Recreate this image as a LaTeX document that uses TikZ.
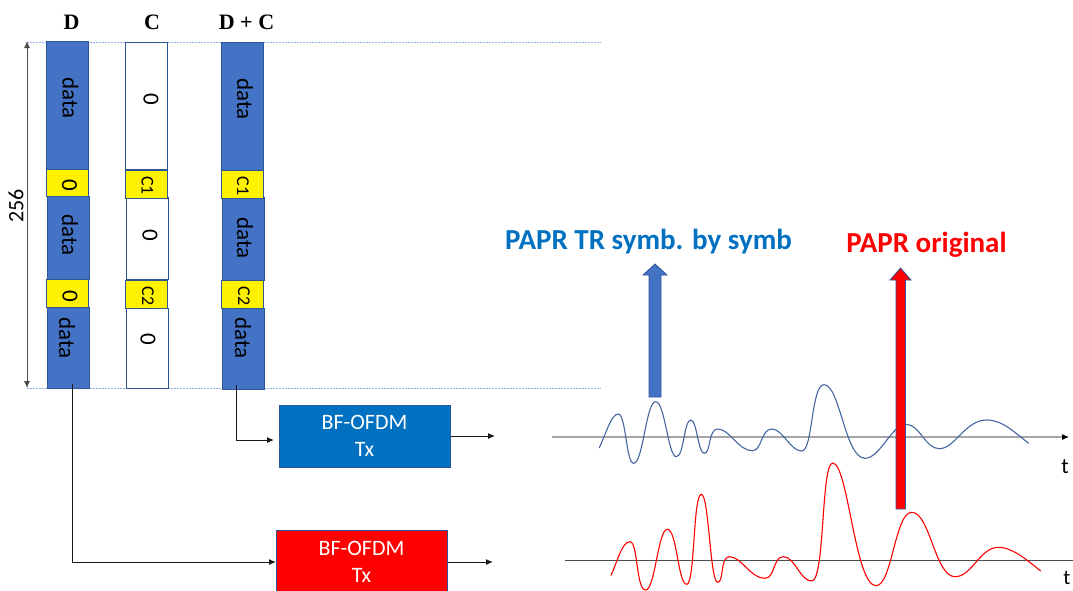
\documentclass[tikz,border=0pt]{standalone}
\usepackage{fontspec}
\setmainfont{Carlito}
\newfontfamily\titlefont{Liberation Serif}
\usetikzlibrary{arrows.meta}
\definecolor{segblue}{HTML}{4472C4}
\definecolor{edgeblue}{HTML}{2F5597}
\definecolor{txblue}{HTML}{0070C0}
\definecolor{dotblue}{HTML}{8FAEEA}
\tikzset{
  x=1pt,y=-1pt,
  seg/.style={draw=edgeblue,line width=1pt,inner sep=0pt,minimum width=42pt},
  dataseg/.style={seg,fill=segblue},
  zeroseg/.style={seg,fill=white},
  yellowseg/.style={seg,fill=yellow},
  biglabel/.style={inner sep=0pt,rotate=-90,yshift=2pt,font=\fontsize{23}{23}\selectfont},
  smalllabel/.style={inner sep=0pt,rotate=-90,yshift=1pt,font=\fontsize{18}{18}\selectfont},
  coltitle/.style={font=\titlefont\fontsize{22}{22}\selectfont\bfseries,inner sep=0pt},
  txbox/.style={draw=edgeblue,line width=1pt,inner sep=0pt,minimum width=171pt,minimum height=62pt,text=white,align=center,font=\fontsize{22}{27}\selectfont},
  arr/.style={-{Latex[length=7pt,width=6pt]},line width=1pt,black!90},
  guide/.style={draw=dotblue,dash pattern=on 2pt off 1pt,line width=1pt},
  wave/.style={line width=1.1pt,line cap=round},
  bigarrow/.style={draw=edgeblue,line width=.8pt},
  plain/.style={inner sep=0pt}
}
\begin{document}
\begin{tikzpicture}
\useasboundingbox (0,0) rectangle (1073,590);

% guides
\coordinate (gtl) at (27,42.5); \coordinate (gtr) at (601,42.5);
\coordinate (gbl) at (27,388.5); \coordinate (gbr) at (601,388.5);
\draw[guide] (gtl) -- (gtr);
\draw[guide] (gbl) -- (gbr);

% titles
\node[coltitle] (td) at (71.5,22) {D};
\node[coltitle] (tc) at (152,22) {C};
\node[coltitle] (tdc) at (246.5,22) {D + C};

% column D
\node[dataseg,minimum height=128pt] (d1) at (67,105) {};
\node[dataseg,minimum height=83pt] (d2) at (68,237.5) {};
\node[dataseg,minimum height=81pt] (d3) at (68,347.5) {};
\node[yellowseg,minimum height=27pt] (dy1) at (67,183) {};
\node[yellowseg,minimum height=28pt] (dy2) at (67.5,293.5) {};
\node[biglabel] (d1t) at (68.5,98) {data};
\node[biglabel] (d2t) at (68,235) {data};
\node[biglabel] (d3t) at (65,338) {data};
\node[biglabel] (dy1t) at (67.5,185) {0};
\node[biglabel] (dy2t) at (68,296) {0};

% column C
\node[zeroseg,minimum height=127pt] (c1) at (146,105.5) {};
\node[zeroseg,minimum height=82pt] (c2) at (147,238) {};
\node[zeroseg,minimum height=80pt] (c3) at (147,348) {};
\node[yellowseg,minimum height=28pt] (cy1) at (146,184) {};
\node[yellowseg,minimum height=28pt] (cy2) at (146,294) {};
\node[biglabel] (c1t) at (149,99) {0};
\node[biglabel] (c2t) at (148,235) {0};
\node[biglabel] (c3t) at (146,339) {0};
\node[smalllabel] (cy1t) at (146.5,185.5) {C1};
\node[smalllabel] (cy2t) at (147,296) {C2};

% column D + C
\node[dataseg,minimum height=128pt] (e1) at (242,106) {};
\node[dataseg,minimum height=83pt] (e2) at (243,238.5) {};
\node[dataseg,minimum height=81pt] (e3) at (243,348.5) {};
\node[yellowseg,minimum height=28pt] (ey1) at (242,184) {};
\node[yellowseg,minimum height=28pt] (ey2) at (242.5,294) {};
\node[biglabel] (e1t) at (243,99) {data};
\node[biglabel] (e2t) at (243,238) {data};
\node[biglabel] (e3t) at (241,338) {data};
\node[smalllabel] (ey1t) at (242,186) {C1};
\node[smalllabel] (ey2t) at (243,296) {C2};

% dimension
\coordinate (dimt) at (27,41);
\coordinate (dimb) at (27,388);
\draw[{Latex[length=7pt,width=6pt]}-{Latex[length=7pt,width=6pt]},line width=.8pt,black!70] (dimt) -- (dimb);
\node[plain,rotate=90,font=\fontsize{22}{22}\selectfont] (n256) at (16,206) {256};

% Tx boxes
\node[txbox,fill=txblue] (txa) at (364.5,436) {BF-OFDM\\Tx};
\node[txbox,fill=red,minimum height=64pt] (txb) at (361.5,562) {BF-OFDM\\Tx};
\coordinate (txaout) at (495,436);
\coordinate (txbout) at (493,562);
\coordinate (da) at (236,385);
\coordinate (db) at (72,384);
\coordinate (txain) at (274,440);
\coordinate (txbin) at (276,562);
\draw[arr] (da) |- (txain);
\draw[arr] (db) |- (txbin);
\draw[arr] (txa.east |- txaout) -- (txaout);
\draw[arr] (txb.east |- txbout) -- (txbout);

% axes
\coordinate (axa0) at (552,437); \coordinate (axa1) at (1062,437);
\coordinate (axah) at (1069,437);
\coordinate (axb0) at (565,560.5); \coordinate (axb1) at (1073,560.5);
\draw[line width=1.3pt,black!35] (axa0) -- (axa1);
\draw[-{Latex[length=7pt,width=6pt]},black,line width=1pt] (axa1) -- (axah);
\draw[line width=.8pt,black!70] (axb0) -- (axb1);
\node[plain,font=\fontsize{22}{22}\selectfont] (ta) at (1065,467) {t};
\node[plain,font=\fontsize{21}{21}\selectfont] (tb) at (1067,578) {t};

% waves
\draw[wave,edgeblue!90] (599.3,447.7)
  .. controls (606,434) and (611,414) .. (618.3,414)
  .. controls (626,414) and (626,463.3) .. (633.7,463.3)
  .. controls (643,463.3) and (646,401.7) .. (655.7,401.7)
  .. controls (665,401.7) and (668,456.7) .. (676.3,456.7)
  .. controls (684,456.7) and (684,420) .. (690.7,420)
  .. controls (697,420) and (698,453.3) .. (704.3,453.3)
  .. controls (711,453.3) and (708,429) .. (717.7,429)
  .. controls (730,429) and (738,450.7) .. (752.3,450.7)
  .. controls (762,450.7) and (761,429) .. (771.7,429)
  .. controls (783,429) and (790,451) .. (801.7,451)
  .. controls (813,451) and (811,384.7) .. (824,384.7)
  .. controls (840,384.7) and (845,458.3) .. (865,458.3)
  .. controls (880,458.3) and (892,424.3) .. (906,424.3)
  .. controls (920,424.3) and (925,448.7) .. (939.3,448.7)
  .. controls (955,448.7) and (965,420) .. (986.7,420)
  .. controls (1003,420) and (1015,433) .. (1028.7,443.3);
\draw[wave,red] (611,575.3)
  .. controls (618,560) and (622,541.7) .. (630,541.7)
  .. controls (638,541.7) and (636,590) .. (645.7,590)
  .. controls (655,590) and (658,529.3) .. (667.3,529.3)
  .. controls (677,529.3) and (678,584.3) .. (686.7,584.3)
  .. controls (695,584.3) and (693,494.3) .. (701.3,494.3)
  .. controls (709,494.3) and (710,582.3) .. (717.7,582.3)
  .. controls (724,582.3) and (720,556.7) .. (729.3,556.7)
  .. controls (742,556.7) and (750,578.3) .. (765,578.3)
  .. controls (775,578.3) and (773,556.7) .. (783.3,556.7)
  .. controls (795,556.7) and (800,581) .. (811.7,581)
  .. controls (825,581) and (821,463) .. (832.7,463)
  .. controls (848,463) and (855,585.7) .. (876,585.7)
  .. controls (892,585.7) and (895,512.3) .. (911.7,512.3)
  .. controls (930,512.3) and (935,576.7) .. (955,576.7)
  .. controls (972,576.7) and (980,547.3) .. (998.3,547.3)
  .. controls (1013,547.3) and (1028,561) .. (1040.7,571);

% PAPR arrows
\draw[bigarrow,fill=segblue] (649,397) -- (649,275) -- (643,275) -- (655,264) -- (667,275) -- (661,275) -- (661,397) -- cycle;
\draw[bigarrow,fill=red] (896,509) -- (896,280) -- (890,280) -- (900.5,268) -- (911,280) -- (905.5,280) -- (905.5,509) -- cycle;

% PAPR labels
\node[plain,font=\fontsize{29}{29}\selectfont\bfseries,text=txblue] (la) at (648.5,242) {PAPR TR symb. by symb};
\node[plain,font=\fontsize{29}{29}\selectfont\bfseries,text=red] (lb) at (926.5,245) {PAPR original};
\end{tikzpicture}
\end{document}
